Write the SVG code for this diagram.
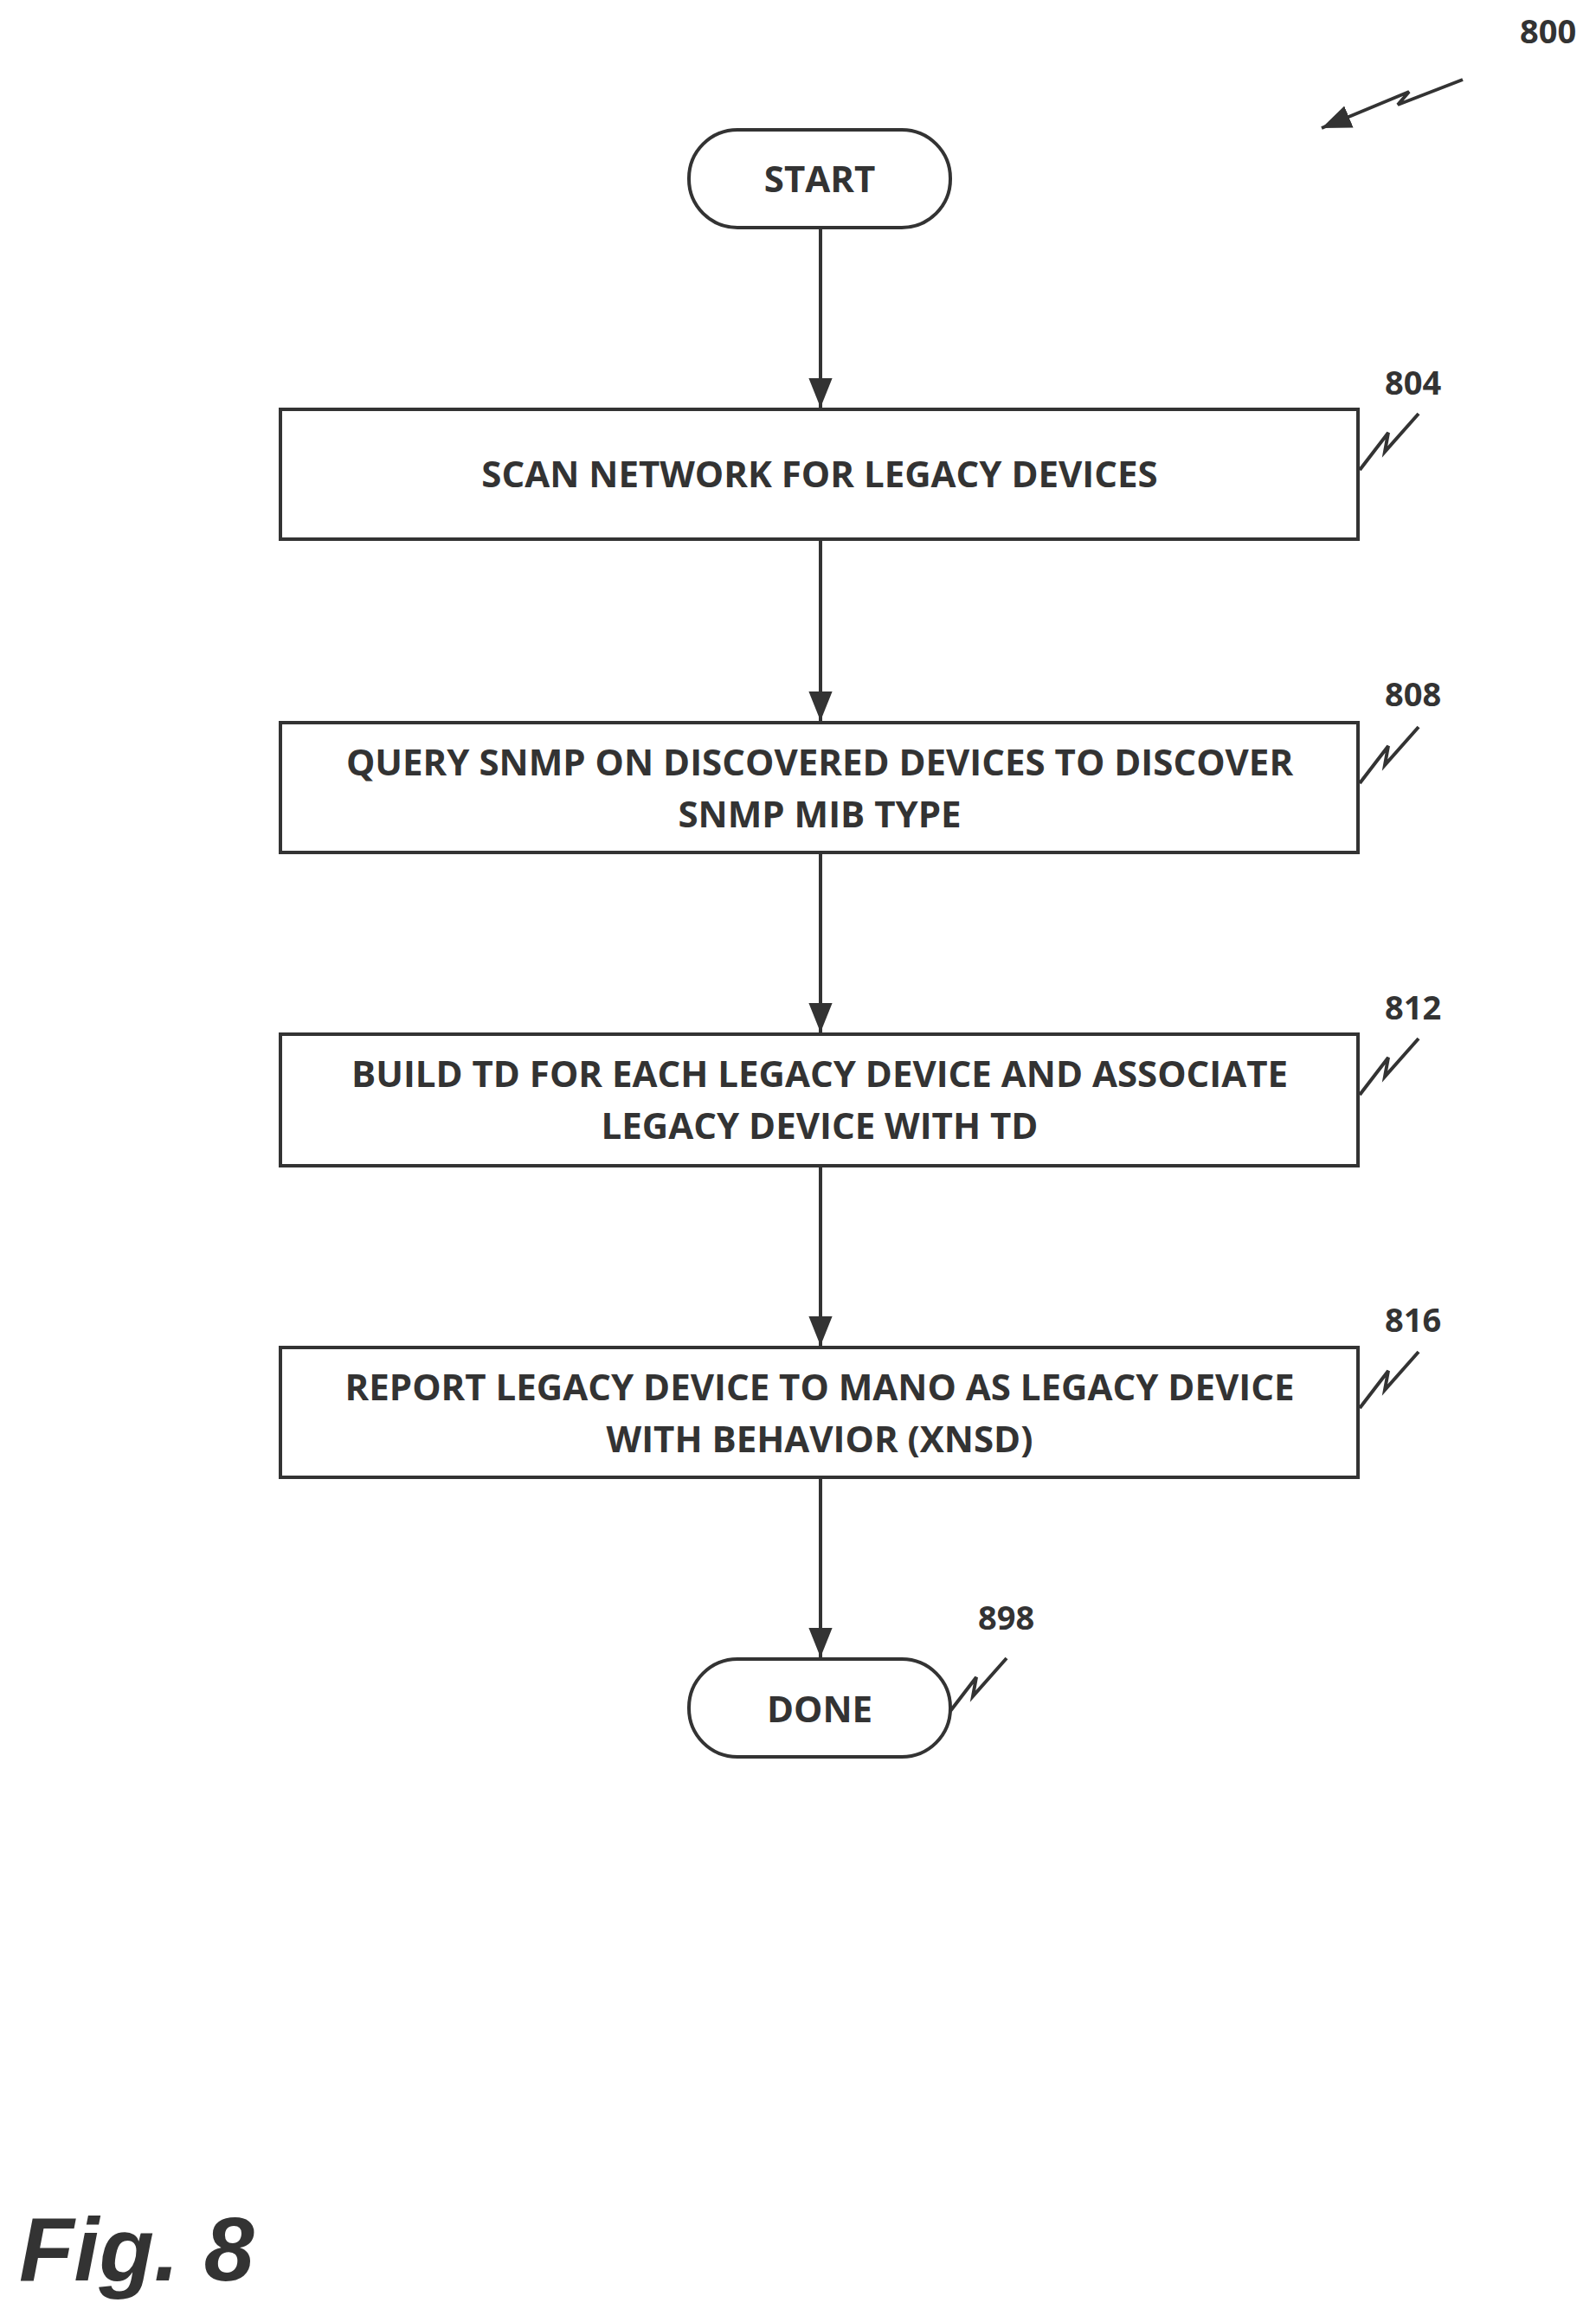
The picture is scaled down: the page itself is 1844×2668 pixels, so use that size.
<svg xmlns="http://www.w3.org/2000/svg" width="1844" height="2668" viewBox="0 0 1844 2668">
<style>
.box{fill:#fff;stroke:#333;stroke-width:4}
.t{font-family:"Open Sans","Liberation Sans",sans-serif;font-weight:bold;font-size:42px;fill:#333;text-anchor:middle}
.ref{font-family:"Open Sans","Liberation Sans",sans-serif;font-weight:bold;font-size:38px;fill:#333}
.c{stroke:#333;stroke-width:4;fill:none}
</style>
<defs>
<marker id="a" viewBox="0 0 10 10" refX="10" refY="5" markerWidth="34" markerHeight="34" markerUnits="userSpaceOnUse" orient="auto"><path d="M0,1 L10,5 L0,9 Z" fill="#333"/></marker>
</defs>
<g id="connectors">
<line class="c" x1="948" y1="263" x2="948" y2="471" marker-end="url(#a)"/>
<line class="c" x1="948" y1="623" x2="948" y2="833" marker-end="url(#a)"/>
<line class="c" x1="948" y1="985" x2="948" y2="1193" marker-end="url(#a)"/>
<line class="c" x1="948" y1="1347" x2="948" y2="1555" marker-end="url(#a)"/>
<line class="c" x1="948" y1="1707" x2="948" y2="1915" marker-end="url(#a)"/>
<path class="c" d="M1690,92 L1615,121 L1628,106 L1527,148" marker-end="url(#a)"/>
<path class="c" d="M1571,543 L1604,500 L1600,522 L1639,478"/>
<path class="c" d="M1571,905 L1604,862 L1600,884 L1639,840"/>
<path class="c" d="M1571,1265 L1604,1222 L1600,1244 L1639,1200"/>
<path class="c" d="M1571,1627 L1604,1584 L1600,1606 L1639,1562"/>
<path class="c" d="M1095,1981 L1128,1938 L1124,1960 L1163,1916"/>
</g>
<g id="start"><rect class="box" x="796" y="150" width="302" height="113" rx="56"/><text class="t" x="947" y="222">START</text></g>
<g id="n804"><rect class="box" x="324" y="473" width="1245" height="150"/><text class="t" x="947" y="563">SCAN NETWORK FOR LEGACY DEVICES</text><text class="ref" x="1600" y="456">804</text></g>
<g id="n808"><rect class="box" x="324" y="835" width="1245" height="150"/><text class="t" x="947" y="896">QUERY SNMP ON DISCOVERED DEVICES TO DISCOVER</text><text class="t" x="947" y="956">SNMP MIB TYPE</text><text class="ref" x="1600" y="816">808</text></g>
<g id="n812"><rect class="box" x="324" y="1195" width="1245" height="152"/><text class="t" x="947" y="1256">BUILD TD FOR EACH LEGACY DEVICE AND ASSOCIATE</text><text class="t" x="947" y="1316">LEGACY DEVICE WITH TD</text><text class="ref" x="1600" y="1178">812</text></g>
<g id="n816"><rect class="box" x="324" y="1557" width="1245" height="150"/><text class="t" x="947" y="1618">REPORT LEGACY DEVICE TO MANO AS LEGACY DEVICE</text><text class="t" x="947" y="1678">WITH BEHAVIOR (XNSD)</text><text class="ref" x="1600" y="1539">816</text></g>
<g id="done"><rect class="box" x="796" y="1917" width="302" height="113" rx="56"/><text class="t" x="947" y="1990">DONE</text><text class="ref" x="1130" y="1883">898</text></g>
<text class="ref" x="1756" y="50">800</text>
<text x="22" y="2635" style="font-family:'Liberation Sans',sans-serif;font-weight:bold;font-style:italic;font-size:104px;fill:#333">Fig. 8</text>
</svg>
